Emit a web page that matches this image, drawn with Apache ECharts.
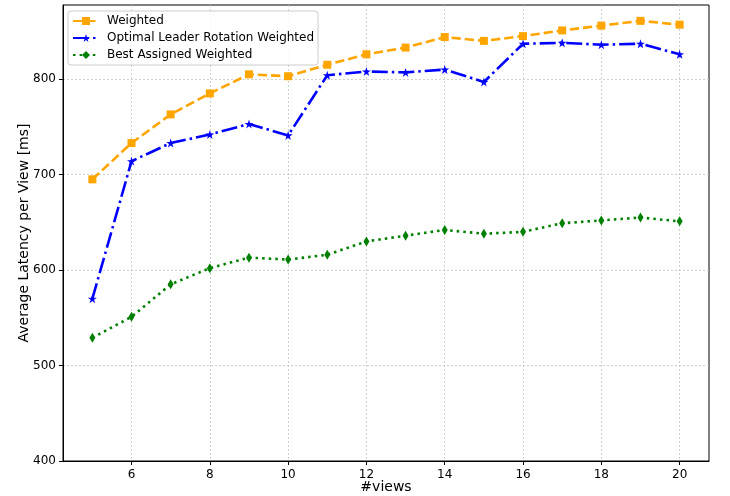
<!DOCTYPE html>
<html>
<head>
<meta charset="utf-8">
<script src="https://cdn.jsdelivr.net/npm/echarts@6/dist/echarts.min.js"></script>
<style>
  html, body { margin: 0; padding: 0; background: #fff; }
  #chart { width: 730px; height: 496px; }
</style>
</head>
<body>
<div id="chart"></div>
<script>
// Number of views on the x axis
const views = [5, 6, 7, 8, 9, 10, 11, 12, 13, 14, 15, 16, 17, 18, 19, 20];

// Average latency per view [ms] for each strategy
const weighted = [695, 733, 763, 785, 805, 803, 815, 826, 833, 844, 840, 845, 851, 856, 861, 857];
const optimalRotation = [570, 714, 733, 742, 753, 741, 804, 808, 807, 810, 797, 837, 838, 836, 837, 826];
const bestAssigned = [529, 551, 585, 602, 613, 611, 616, 630, 636, 642, 638, 640, 649, 652, 655, 651];

// Axis ticks
const xTicks = [6, 8, 10, 12, 14, 16, 18, 20];
const yTicks = [400, 500, 600, 700, 800];

const FONT = 'DejaVu Sans';

const starPath = 'path://M100,0L122.45,69.1L195.1,69.1L136.33,111.8L158.8,180.9L100,138.2L41.2,180.9L63.67,111.8L4.9,69.1L77.55,69.1Z';

function pairs(ys) {
  return views.map((v, i) => [v, ys[i]]);
}

const chart = echarts.init(document.getElementById('chart'), null, { renderer: 'canvas' });

const gridLine = { show: true, lineStyle: { color: '#c4c4c4', width: 0.8, type: [2, 2] } };

chart.setOption({
  animation: false,
  backgroundColor: '#ffffff',
  textStyle: { fontFamily: FONT },
  grid: {
    left: 63, right: 21, top: 5, bottom: 35,
    outerBoundsMode: 'none',
    containLabel: false,
    show: true, borderColor: '#000', borderWidth: 1, backgroundColor: 'transparent'
  },
  legend: {
    orient: 'vertical',
    left: 68,
    top: 11,
    padding: [4, 4, 4, 4],
    itemGap: 5,
    itemWidth: 26,
    itemHeight: 10,
    backgroundColor: 'rgba(255,255,255,0.85)',
    borderColor: '#cccccc',
    borderWidth: 1,
    borderRadius: 3,
    textStyle: { fontFamily: FONT, fontSize: 12, color: '#000', padding: [0, 0, 0, 3] },
    data: ['Weighted', 'Optimal Leader Rotation Weighted', 'Best Assigned Weighted']
  },
  xAxis: {
    type: 'value',
    min: 4.25,
    max: 20.75,
    name: '#views',
    nameLocation: 'middle',
    nameGap: 19,
    nameMoveOverlap: false,
    nameTextStyle: { fontFamily: FONT, fontSize: 14, color: '#000' },
    axisLine: { show: true, onZero: false, lineStyle: { color: '#000', width: 1 } },
    axisTick: { show: true, length: 4, customValues: xTicks, lineStyle: { color: '#000', width: 1 } },
    axisLabel: { customValues: xTicks, margin: 8, fontFamily: FONT, fontSize: 12, color: '#000' },
    splitLine: gridLine
  },
  yAxis: {
    type: 'value',
    min: 400,
    max: 877.6,
    name: 'Average Latency per View [ms]',
    nameLocation: 'middle',
    nameGap: 32,
    nameMoveOverlap: false,
    nameTextStyle: { fontFamily: FONT, fontSize: 14, color: '#000' },
    axisLine: { show: true, onZero: false, lineStyle: { color: '#000', width: 1 } },
    axisTick: { show: true, length: 4, customValues: yTicks, lineStyle: { color: '#000', width: 1 } },
    axisLabel: { customValues: yTicks, margin: 7, fontFamily: FONT, fontSize: 12, color: '#000' },
    splitLine: gridLine
  },
  series: [
    {
      name: 'Weighted',
      type: 'line',
      data: pairs(weighted),
      symbol: 'rect',
      symbolSize: 8,
      showAllSymbol: true,
      itemStyle: { color: '#FFA500' },
      lineStyle: { color: '#FFA500', width: 2.6, type: [9.25, 4] },
      z: 3
    },
    {
      name: 'Optimal Leader Rotation Weighted',
      type: 'line',
      data: pairs(optimalRotation),
      symbol: starPath,
      symbolSize: 9,
      showAllSymbol: true,
      itemStyle: { color: '#0000FF' },
      lineStyle: { color: '#0000FF', width: 2.6, type: [16, 4, 2.5, 4] },
      z: 4
    },
    {
      name: 'Best Assigned Weighted',
      type: 'line',
      data: pairs(bestAssigned),
      symbol: 'diamond',
      symbolSize: [6, 10],
      showAllSymbol: true,
      itemStyle: { color: '#008000' },
      lineStyle: { color: '#008000', width: 2.6, type: [2.5, 4.1] },
      z: 5
    }
  ]
});
</script>
</body>
</html>
